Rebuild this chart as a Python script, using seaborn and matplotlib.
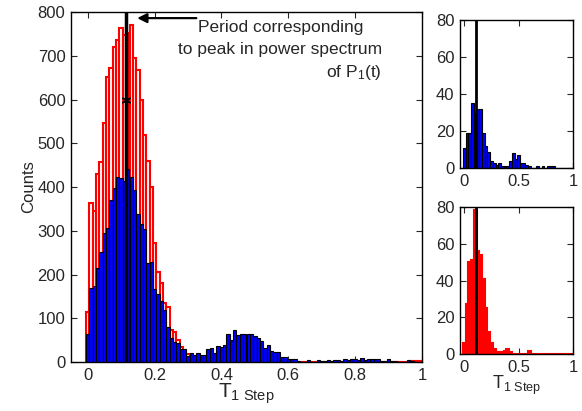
import numpy as np
import pandas as pd
import matplotlib
matplotlib.use("Agg")
import matplotlib.pyplot as plt
import seaborn as sns

# ---------------- data ----------------
main_centers = [round(i * 0.01, 3) for i in range(101)]
main_edges = [round(i * 0.01 - 0.005, 4) for i in range(102)]

main_red = [115, 363, 345, 430, 457, 546, 652, 671, 720, 735,
            763, 748, 752, 770, 694, 667, 600, 520, 460, 400,
            272, 205, 180, 135, 125, 73, 68, 50, 35, 27,
            18, 12, 8, 6, 4, 3, 2, 2, 1, 1,
            1, 1, 1, 0, 0, 0, 0, 0, 0, 0,
            0, 0, 0, 0, 0, 0, 0, 0, 0, 0,
            0, 0, 0, 0, 0, 0, 1, 0, 0, 0,
            0, 0, 0, 0, 0, 0, 0, 0, 0, 0,
            0, 0, 0, 0, 0, 0, 0, 0, 0, 0,
            0, 0, 0, 0, 0, 0, 0, 2, 2, 2, 2]

main_blue = [64, 169, 173, 215, 252, 296, 306, 370, 398, 422,
             420, 413, 442, 422, 393, 338, 315, 303, 226, 229,
             167, 156, 140, 120, 80, 55, 45, 44, 30, 30,
             14, 21, 16, 21, 16, 17, 29, 33, 21, 36,
             35, 39, 63, 50, 73, 62, 65, 65, 64, 65,
             59, 54, 48, 31, 39, 26, 22, 22, 12, 12,
             8, 8, 6, 3, 1, 1, 5, 1, 1, 5,
             3, 2, 5, 3, 4, 5, 3, 7, 5, 8,
             6, 5, 10, 5, 8, 7, 7, 6, 3, 3,
             7, 2, 2, 1, 0, 1, 4, 2, 0, 0, 0]

small_centers = [round(i * 0.025, 4) for i in range(41)]
small_edges = [round(i * 0.025 - 0.0125, 5) for i in range(42)]

small_blue = [11, 19, 19, 35, 30, 32, 32, 19, 12, 9,
              4, 3, 2, 3, 1, 1, 1, 4, 8, 5,
              7, 3, 3, 2, 1, 0, 0, 1, 0, 1,
              0, 1, 1, 1, 0, 0, 0, 0, 0, 0, 0]

small_red = [6, 27, 50, 51, 78, 56, 54, 41, 25, 12,
             6, 3, 1, 1, 1, 2, 3, 1, 0, 0,
             0, 0, 0, 0, 2, 0, 0, 0, 0, 0,
             0, 0, 0, 0, 0, 0, 0, 0, 0, 0, 0]

peak_period = 0.115
peak_small = 0.11
star_y = 600

yticks_main = [0, 100, 200, 300, 400, 500, 600, 700, 800]
xticks_main = [0, 0.2, 0.4, 0.6, 0.8, 1]
xtick_main_labels = ["0", "0.2", "0.4", "0.6", "0.8", "1"]
yticks_small = [0, 20, 40, 60, 80]
xticks_small = [0, 0.5, 1]
xtick_small_labels = ["0", "0.5", "1"]

df_main = pd.DataFrame({"T": main_centers, "red": main_red, "blue": main_blue})
df_small = pd.DataFrame({"T": small_centers, "red": small_red, "blue": small_blue})

# ---------------- style ----------------
sns.set_style("ticks")
plt.rcParams["font.family"] = ["Liberation Sans", "DejaVu Sans"]
plt.rcParams["mathtext.fontset"] = "custom"
plt.rcParams["mathtext.rm"] = "Liberation Sans"
plt.rcParams["mathtext.it"] = "Liberation Sans:italic"
plt.rcParams["axes.linewidth"] = 1.0

W, H = 582, 411
fig = plt.figure(figsize=(W / 100, H / 100), dpi=100)
ax = fig.add_axes([71 / W, 49 / H, 351 / W, 350 / H])
ax_t = fig.add_axes([460 / W, (H - 168.3) / H, 113 / W, 148.3 / H])
ax_b = fig.add_axes([460 / W, (H - 354.3) / H, 113 / W, 147.6 / H])

# ---------------- main panel ----------------
sns.histplot(data=df_main, x="T", weights="red", bins=main_edges, fill=False,
             color="red", linewidth=1.5, ax=ax)
sns.histplot(data=df_main, x="T", weights="blue", bins=main_edges,
             color="blue", edgecolor="black", linewidth=0.8, alpha=1, ax=ax)
ax.plot([peak_period, peak_period], [0, 800], color="black", lw=2.5)
ax.plot([peak_period], [star_y], marker=(6, 2, 0), color="black", ms=7, mew=1)

ax.set_xlim(-0.05, 1)
ax.set_ylim(0, 800)
ax.set_xticks(xticks_main)
ax.set_xticklabels(xtick_main_labels)
ax.set_yticks(yticks_main)
ax.set_ylabel("Counts", fontsize=12, labelpad=1)
ax.set_xlabel(r"T$_{\mathrm{1\ Step}}$", fontsize=15, labelpad=-1)

ax.annotate("", xy=(0.148, 786), xytext=(0.325, 786),
            arrowprops=dict(arrowstyle="-|>", color="black", lw=1.6,
                            mutation_scale=14, shrinkA=0, shrinkB=0))
ax.text(0.576, 765, "Period corresponding", ha="center", va="center", fontsize=12.5)
ax.text(0.576, 714, "to peak in power spectrum", ha="center", va="center", fontsize=12.5)
ax.text(0.795, 662, r"of P$_{\mathrm{1}}$(t)", ha="center", va="center", fontsize=12.5)

# ---------------- small panels ----------------
sns.histplot(data=df_small, x="T", weights="blue", bins=small_edges,
             color="blue", edgecolor="black", linewidth=0.8, alpha=1, ax=ax_t)
ax_t.plot([peak_small, peak_small], [0, 80], color="black", lw=2.0)

sns.histplot(data=df_small, x="T", weights="red", bins=small_edges,
             color="red", edgecolor="red", linewidth=1.5, alpha=1, ax=ax_b)
ax_b.plot([peak_small, peak_small], [0, 80], color="black", lw=2.0)
ax_b.set_xlabel(r"T$_{\mathrm{1\ Step}}$", fontsize=13, labelpad=-1)
ax_t.set_xlabel("")

for a in (ax_t, ax_b):
    a.set_xlim(-0.04, 1)
    a.set_ylim(0, 80)
    a.set_xticks(xticks_small)
    a.set_xticklabels(xtick_small_labels)
    a.set_yticks(yticks_small)
    a.set_ylabel("")

for a in (ax, ax_t, ax_b):
    a.tick_params(direction="in", top=True, right=True, length=4, width=0.8,
                  labelsize=12, pad=4)
    for s in a.spines.values():
        s.set_visible(True)
        s.set_color("black")

fig.savefig("out.png", dpi=100)
